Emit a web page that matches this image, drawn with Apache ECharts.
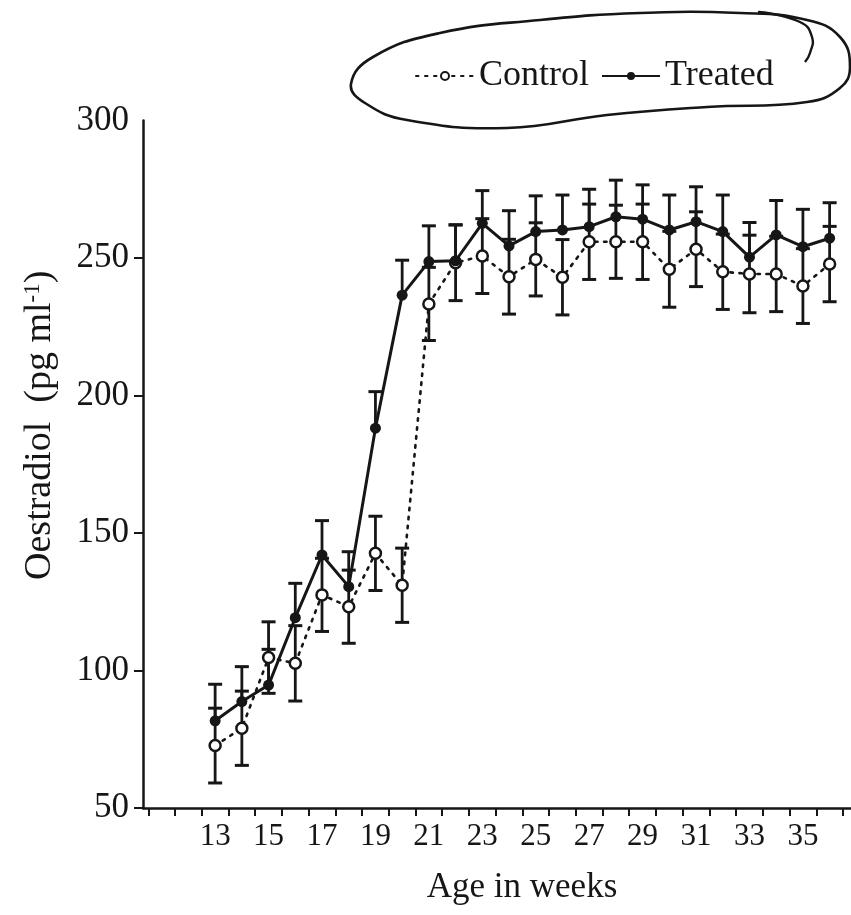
<!DOCTYPE html>
<html><head><meta charset="utf-8">
<script src="https://cdn.jsdelivr.net/npm/echarts@6/dist/echarts.min.js"></script>
<style>html,body{margin:0;padding:0;background:#fff}#chart{width:851px;height:915px}</style>
</head><body><div id="chart"></div>
<script>
// ---- data ----
const weeks = [13,14,15,16,17,18,19,20,21,22,23,24,25,26,27,28,29,30,31,32,33,34,35,36];
const controlMean = [72.7,79.0,104.7,102.6,127.5,123.2,142.6,131.0,233.3,248.3,250.7,243.2,249.5,243.0,255.9,255.9,255.9,245.9,253.2,245.0,244.2,244.2,239.8,247.8];
const controlSE   = [13.6,13.5,13.0,13.7,13.3,13.3,13.5,13.5,13.3,13.8,13.6,13.6,13.3,13.7,13.7,13.3,13.7,13.8,13.6,13.7,14.1,13.7,13.6,13.7];
const treatedMean = [81.7,88.7,94.7,119.2,142.0,130.5,188.1,236.5,248.7,249.0,262.6,254.4,259.6,260.2,261.4,265.0,264.1,260.2,263.2,259.6,250.3,258.4,254.1,257.2];
const treatedSE   = [13.3,12.7,13.0,12.5,12.5,12.7,13.3,12.7,13.0,13.0,11.9,12.8,13.0,12.7,13.6,13.3,12.5,12.7,12.7,13.3,12.6,12.5,13.6,12.9];
const xTickValues = [10.5,11.5,12.5,13.5,14.5,15.5,16.5,17.5,18.5,19.5,20.5,21.5,22.5,23.5,24.5,25.5,26.5,27.5,28.5,29.5,30.5,31.5,32.5,33.5,34.5,35.5,36.5];
const xLabelValues = [13,15,17,19,21,23,25,27,29,31,33,35];
const yTickValues = [50,100,150,200,250];
const yLabelValues = [50,100,150,200,250,300];

const FONT = "'Liberation Serif', 'Times New Roman', serif";
const INK = '#161616';
const chart = echarts.init(document.getElementById('chart'));

function errSeries(name, means, ses, upOnly) {
  return {
    type: 'custom', name: name, silent: true, z: 2,
    data: weeks.map((w, i) => [w, means[i], ses[i]]),
    encode: {x: 0, y: 1},
    renderItem: function (params, api) {
      const x = api.value(0), m = api.value(1), s = api.value(2);
      const top = api.coord([x, m + s]);
      const mid = api.coord([x, m]);
      const bot = upOnly ? mid : api.coord([x, m - s]);
      const cw = 7;
      const st = {stroke: INK, lineWidth: 2.8};
      const ch = [
        {type: 'line', shape: {x1: top[0], y1: top[1], x2: bot[0], y2: bot[1]}, style: st},
        {type: 'line', shape: {x1: top[0] - cw, y1: top[1], x2: top[0] + cw, y2: top[1]}, style: {stroke: INK, lineWidth: 3}}
      ];
      if (!upOnly) ch.push({type: 'line', shape: {x1: bot[0] - cw, y1: bot[1], x2: bot[0] + cw, y2: bot[1]}, style: {stroke: INK, lineWidth: 3}});
      return {type: 'group', children: ch};
    }
  };
}

const option = {
  backgroundColor: '#fff',
  animation: false,
  grid: {left: 143, right: 0, top: 120.5, bottom: 107},
  legend: {
    data: ['Control', 'Treated'],
    left: 410, top: 53,
    itemWidth: 58, itemHeight: 10, itemGap: 12,
    textStyle: {fontFamily: FONT, fontSize: 36, color: INK}
  },
  xAxis: {
    type: 'value', min: 10.3, max: 36.8,
    name: 'Age in weeks', nameLocation: 'middle', nameGap: 62,
    nameTextStyle: {fontFamily: FONT, fontSize: 35, color: INK, padding: [0, 0, 0, 50]},
    axisLine: {show: true, lineStyle: {color: INK, width: 2.5}},
    axisTick: {show: true, customValues: xTickValues, length: 8, lineStyle: {color: INK, width: 2}},
    axisLabel: {customValues: xLabelValues, fontFamily: FONT, fontSize: 31, color: INK, margin: 13},
    splitLine: {show: false}
  },
  yAxis: {
    type: 'value', min: 50, max: 300, interval: 50,
    name: '{a|Oestradiol  (pg ml}{s|-1}{a|)}', nameLocation: 'middle', nameRotate: 90, nameGap: 84,
    nameTextStyle: {
      padding: [0, 0, 0, 78],
      rich: {
        a: {fontFamily: FONT, fontSize: 38, color: INK},
        s: {fontFamily: FONT, fontSize: 23, color: INK, verticalAlign: 'top'}
      }
    },
    axisLine: {show: true, lineStyle: {color: INK, width: 2.5}},
    axisTick: {show: true, customValues: yTickValues, length: 9, lineStyle: {color: INK, width: 2}},
    axisLabel: {customValues: yLabelValues, fontFamily: FONT, fontSize: 35, color: INK, margin: 14},
    splitLine: {show: false}
  },
  graphic: [
    {type: 'polygon', z: 10, silent: true,
     shape: {smooth: 0.45, points: [[351,84],[373,57],[440,33],[540,20],[640,13],[740,13],[807,20],[840,37],[850,67],[840,88],[807,102],[707,107],[607,115],[507,128],[407,120],[365,103]]},
     style: {fill: 'none', stroke: INK, lineWidth: 2.6}},
    {type: 'polyline', z: 10, silent: true,
     shape: {smooth: 0.5, points: [[758,12],[800,22],[812,37],[810,53],[805,62]]},
     style: {fill: 'none', stroke: INK, lineWidth: 2.4}}
  ],
  series: [
    errSeries('Control SE', controlMean, controlSE, false),
    errSeries('Treated SE', treatedMean, treatedSE, true),
    {
      type: 'line', name: 'Control', z: 3,
      data: weeks.map((w, i) => [w, controlMean[i]]),
      symbol: 'circle', symbolSize: 11,
      itemStyle: {color: '#fff', borderColor: INK, borderWidth: 2.5},
      lineStyle: {color: INK, width: 2.6, type: [2.5, 6.5], cap: 'round'}
    },
    {
      type: 'line', name: 'Treated', z: 4,
      data: weeks.map((w, i) => [w, treatedMean[i]]),
      symbol: 'circle', symbolSize: 11,
      itemStyle: {color: INK},
      lineStyle: {color: INK, width: 3}
    }
  ]
};
chart.setOption(option);
</script>
</body></html>
